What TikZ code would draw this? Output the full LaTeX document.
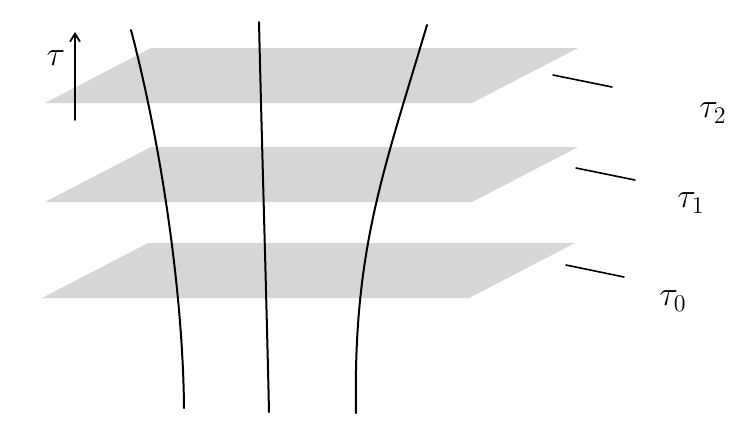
\documentclass[tikz,border=0pt]{standalone}
\usetikzlibrary{arrows.meta}
\definecolor{planegray}{RGB}{214,214,214}
\begin{document}
\begin{tikzpicture}[x=0.5pt, y=-0.5pt, font=\fontsize{18}{20}\selectfont, line join=round, line cap=round, >={Straight Barb[length=4pt,width=5pt]}]
			\useasboundingbox (0,0) rectangle (753,441);
			\def\w{427}  \def\dx{106} \def\dy{55}
			% mat phang
			\foreach \yt/\xl in {48/151, 147/151, 243/148}
				\fill[planegray] (\xl,\yt) -- ++(\w,0) -- ++(-\dx,\dy) -- ++(-\w,0) -- cycle;
			\draw[->, line width=0.9pt] (75,120) -- (75,32);
			\node (tau) at (56,58) {$\tau$};
			\draw[line width=1pt] (131,30) .. controls (160,140) and (183,290) .. (184,408);
			\draw[line width=1pt] (259,22) .. controls (262,150) and (266,280) .. (269,412);
			\draw[line width=1pt] (427,25) .. controls (383,173) and (353,250) .. (356,413);
			\draw[line width=0.8pt] (553,75) -- (612,87);
			\draw[line width=0.8pt] (576,168) -- (635,180);
			\draw[line width=0.8pt] (566,265) -- (624,277);
			\node (t2) at (713,113) {$\tau_2$};
			\node (t1) at (691,203) {$\tau_1$};
			\node (t0) at (673,301) {$\tau_0$};
		\end{tikzpicture}
\end{document}
